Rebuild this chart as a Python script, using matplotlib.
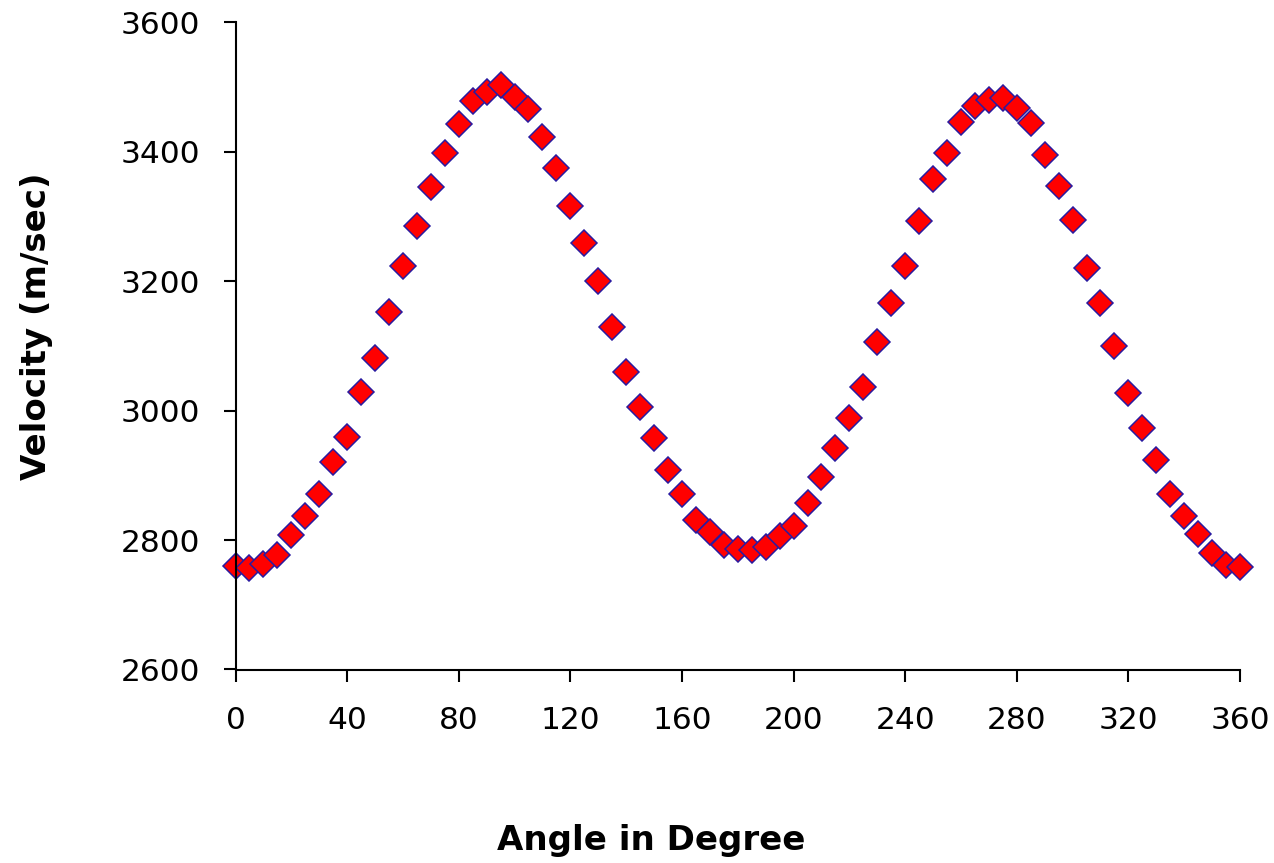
import matplotlib
matplotlib.use('Agg')
import matplotlib.pyplot as plt

# angle in degrees, every 5 degrees from 0 to 360
angles = list(range(0, 361, 5))

# velocity (m/sec)
velocity = [
  2760, 2757, 2763, 2777, 2808, 2838, 2871, 2921, 2960, 3029,
  3081, 3152, 3224, 3286, 3346, 3398, 3443, 3479, 3493, 3503,
  3485, 3467, 3423, 3375, 3316, 3259, 3201, 3129, 3060, 3006,
  2958, 2909, 2871, 2831, 2812, 2792, 2786, 2785, 2790, 2806,
  2822, 2858, 2897, 2943, 2988, 3037, 3106, 3167, 3224, 3293,
  3358, 3399, 3446, 3471, 3480, 3483, 3468, 3445, 3395, 3347,
  3294, 3220, 3166, 3100, 3027, 2973, 2924, 2872, 2837, 2809,
  2780, 2762, 2758,
]

x_ticks = list(range(0, 361, 40))
y_ticks = list(range(2600, 3601, 200))

plt.rcParams['font.family'] = ['DejaVu Sans']

fig = plt.figure(figsize=(12.74, 8.63), dpi=100)
ax = fig.add_axes([235.5 / 1274, 1 - 669.5 / 863, (1240 - 235.5) / 1274, (669.5 - 22.5) / 863])

ax.plot(angles, velocity, linestyle='none', marker='D', markersize=12.8,
        markerfacecolor='#ff0000', markeredgecolor='#2a1aa0', markeredgewidth=1.1,
        clip_on=False)

ax.set_xlim(0, 360)
ax.set_ylim(2600, 3600)
ax.set_xticks(x_ticks)
ax.set_yticks(y_ticks)

for side in ['top', 'right']:
  ax.spines[side].set_visible(False)
for side in ['left', 'bottom']:
  ax.spines[side].set_linewidth(1.5)

ax.tick_params(axis='both', direction='out', length=8.6, width=1.5, labelsize=22.5)
ax.tick_params(axis='x', pad=18)
ax.tick_params(axis='y', pad=17)

fig.text(651 / 1274, 1 - 850 / 863, 'Angle in Degree', fontsize=24.5, fontweight='bold',
         ha='center', va='baseline')
fig.text(37 / 1274, 1 - 326 / 863, 'Velocity (m/sec)', fontsize=24.5, fontweight='bold',
         rotation=90, ha='center', va='center')

plt.savefig('out.png', dpi=100)
